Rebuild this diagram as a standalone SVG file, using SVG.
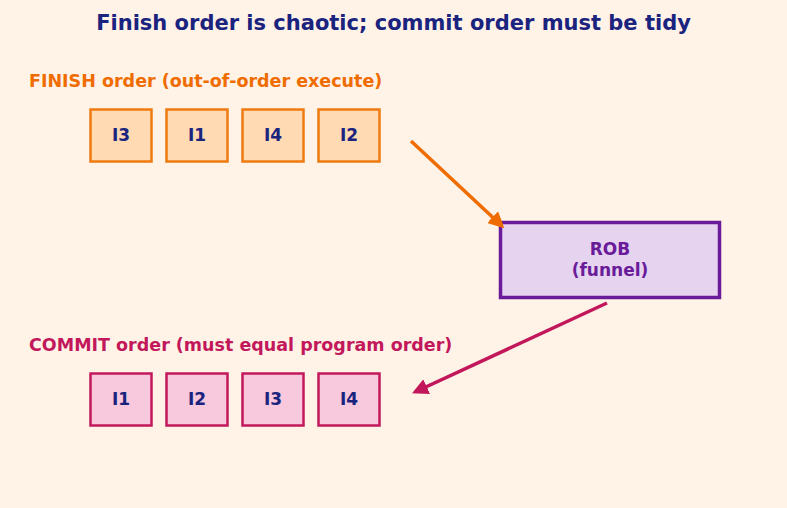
<svg xmlns="http://www.w3.org/2000/svg" width="787" height="508" viewBox="0 0 787 508">
<defs>
<style>
text{font-family:"DejaVu Sans","Liberation Sans",sans-serif;font-weight:bold}
.fin rect{fill:#FFDAB3;stroke:#EF7A10;stroke-width:2.5}
.com rect{fill:#F8C8DC;stroke:#C2185B;stroke-width:2.5}
.lbl{font-size:17px;fill:#1A237E;text-anchor:middle}
</style>
<marker id="ao" viewBox="0 0 10 10" refX="8" refY="5" markerWidth="4.6" markerHeight="4.6" orient="auto" markerUnits="strokeWidth"><path d="M0,0 L10,5 L0,10 z" fill="#EF6C00"/></marker>
<marker id="am" viewBox="0 0 10 10" refX="8" refY="5" markerWidth="4.6" markerHeight="4.6" orient="auto" markerUnits="strokeWidth"><path d="M0,0 L10,5 L0,10 z" fill="#C2185B"/></marker>
</defs>
<rect width="787" height="508" fill="#FFF2E7"/>
<text x="393.5" y="30" font-size="21" fill="#1A237E" text-anchor="middle">Finish order is chaotic; commit order must be tidy</text>
<text x="29" y="87" font-size="17.5" fill="#EF6C00">FINISH order (out-of-order execute)</text>
<text x="29" y="351" font-size="17.5" fill="#C2185B">COMMIT order (must equal program order)</text>
<g id="f1" class="fin"><rect x="90.5" y="109.5" width="61" height="52"/><text class="lbl" x="121" y="141">I3</text></g>
<g id="f2" class="fin"><rect x="166.5" y="109.5" width="61" height="52"/><text class="lbl" x="197" y="141">I1</text></g>
<g id="f3" class="fin"><rect x="242.5" y="109.5" width="61" height="52"/><text class="lbl" x="273" y="141">I4</text></g>
<g id="f4" class="fin"><rect x="318.5" y="109.5" width="61" height="52"/><text class="lbl" x="349" y="141">I2</text></g>
<g id="rob"><rect x="500.5" y="222.5" width="219" height="75" fill="#E6D3F0" stroke="#6A1B9A" stroke-width="3.5"/><text x="610" y="255" font-size="17" fill="#6A1B9A" text-anchor="middle">ROB</text><text x="610" y="276" font-size="17" fill="#6A1B9A" text-anchor="middle">(funnel)</text></g>
<g id="c1" class="com"><rect x="90.5" y="373.5" width="61" height="52"/><text class="lbl" x="121" y="405">I1</text></g>
<g id="c2" class="com"><rect x="166.5" y="373.5" width="61" height="52"/><text class="lbl" x="197" y="405">I2</text></g>
<g id="c3" class="com"><rect x="242.5" y="373.5" width="61" height="52"/><text class="lbl" x="273" y="405">I3</text></g>
<g id="c4" class="com"><rect x="318.5" y="373.5" width="61" height="52"/><text class="lbl" x="349" y="405">I4</text></g>
<g id="connectors" fill="none" stroke-width="3.5">
<line x1="411" y1="141" x2="502" y2="226" stroke="#EF6C00" marker-end="url(#ao)"/>
<line x1="607" y1="303" x2="415" y2="392" stroke="#C2185B" marker-end="url(#am)"/>
</g>
</svg>
